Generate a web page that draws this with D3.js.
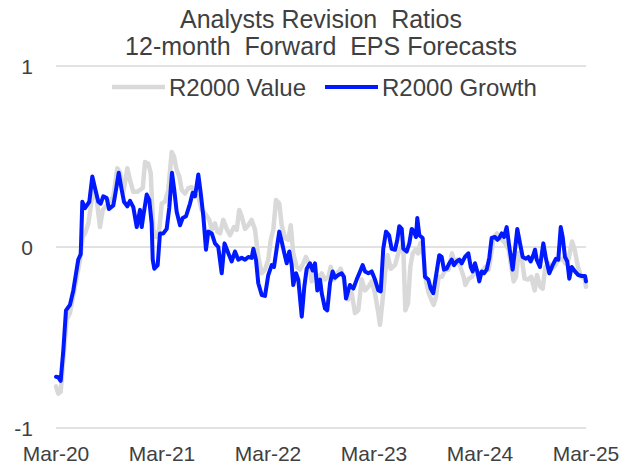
<!DOCTYPE html>
<meta charset="utf-8">
<title>Analysts Revision Ratios</title>
<style>

body {
  margin: 0;
  background-color: white;
}

text {
  font-family: "Liberation Sans", Arial, sans-serif;
  fill: #404040;
}

.grid line {
  stroke: #d9d9d9;
  stroke-width: 1.5px;
}

</style>
<body>
<script src="https://cdn.jsdelivr.net/npm/d3@7"></script>
<script>

var width = 635,
    height = 467;

var titleLines = ["Analysts Revision  Ratios", "12-month  Forward  EPS Forecasts"];
var seriesNames = ["R2000 Value", "R2000 Growth"];
var xTickMonths = [0, 12, 24, 36, 48, 60];
var xTickLabels = ["Mar-20", "Mar-21", "Mar-22", "Mar-23", "Mar-24", "Mar-25"];
var yTicks = [1, 0, -1];

// months since Mar-20
var valueMonths = [0, 0.26, 0.53, 0.83, 1.21, 1.58, 2.15, 2.72, 3.02, 3.28, 3.66, 3.93, 4.22, 4.61, 4.98,
  5.29, 5.74, 6.11, 6.49, 6.94, 7.25, 7.62, 8.07, 8.38, 8.75, 9.2, 9.51, 9.82, 10.08, 10.45, 10.72,
  11.02, 11.32, 11.69, 11.97, 12.34, 12.71, 13.1, 13.36, 13.66, 13.96, 14.23, 14.6, 14.98, 15.36,
  15.74, 16.11, 16.49, 16.87, 17.35, 17.63, 18, 18.26, 18.57, 18.94, 19.32, 19.7, 20.15, 20.46,
  20.75, 21.02, 21.4, 21.77, 22.15, 22.53, 22.9, 23.29, 23.66, 24.03, 24.31, 24.6, 24.91, 25.28,
  25.55, 25.92, 26.3, 26.57, 26.86, 27.25, 27.62, 28, 28.3, 28.68, 28.95, 29.32, 29.7, 30.08,
  30.45, 30.83, 31.1, 31.47, 31.85, 32.23, 32.52, 32.83, 33.09, 33.48, 33.85, 34.22, 34.61, 34.98,
  35.36, 35.74, 36.11, 36.49, 36.68, 36.98, 37.25, 37.55, 37.89, 38.38, 38.75, 39.3, 39.55, 39.85,
  40.11, 40.38, 40.68, 40.98, 41.24, 41.62, 41.89, 42.19, 42.48, 42.75, 43.02, 43.32, 43.7, 44.08,
  44.46, 44.83, 45.14, 45.4, 45.78, 46.15, 46.34, 46.72, 47.09, 47.47, 47.85, 48.23, 48.6, 48.98,
  49.28, 49.55, 49.92, 50.3, 50.49, 50.86, 51.24, 51.54, 51.81, 52.07, 52.37, 52.75, 53.05, 53.43,
  53.81, 54.19, 54.45, 54.83, 55.1, 55.4, 55.78, 56.15, 56.53, 56.91, 57.36, 57.66, 58.04, 58.42,
  58.72, 59.09, 59.47, 59.85, 60];
var valueRatios = [-0.77, -0.81, -0.8, -0.62, -0.4, -0.365, -0.22, -0.07, 0.055, 0.075, 0.13, 0.22, 0.33, 0.26, 0.11,
  0.205, 0.23, 0.25, 0.28, 0.435, 0.41, 0.3, 0.435, 0.37, 0.305, 0.305, 0.315, 0.325, 0.47, 0.46, 0.41,
  0.095, 0.055, 0.095, 0.24, 0.25, 0.315, 0.525, 0.5, 0.425, 0.39, 0.315, 0.295, 0.325, 0.33,
  0.285, 0.28, 0.205, 0.185, 0.15, 0.095, 0.13, 0.085, 0.075, 0.15, 0.1, 0.065, 0.11, 0.095,
  0.205, 0.17, 0.1, 0.12, 0.15, 0.095, -0.055, -0.145, -0.125, -0.07, 0.04, 0.095, 0.26, 0.24,
  0.12, 0.05, 0.04, 0.12, -0.035, -0.11, -0.125, -0.09, -0.055, -0.1, -0.19, -0.13, -0.18, -0.145,
  -0.18, -0.165, -0.11, -0.18, -0.145, -0.12, -0.165, -0.24, -0.29, -0.255, -0.365, -0.35, -0.18, -0.24,
  -0.22, -0.19, -0.255, -0.365, -0.43, -0.29, -0.145, -0.045, -0.12, -0.1, -0.035, 0.02, -0.35, -0.31,
  -0.11, -0.035, -0.015, -0.035, 0.02, -0.055, -0.19, -0.255, -0.29, -0.32, -0.275, -0.165, -0.165, -0.125,
  -0.125, -0.035, -0.09, -0.07, -0.11, -0.165, -0.21, -0.175, -0.165, -0.135, -0.155, -0.135, -0.11, -0.125,
  -0.035, 0.055, 0.075, 0.055, 0.04, 0.02, -0.015, -0.11, -0.19, -0.165, -0.035, -0.07, -0.175, -0.18,
  -0.165, -0.24, -0.155, -0.22, -0.23, -0.11, -0.09, -0.12, -0.1, -0.07, -0.065, -0.09, -0.065, 0.03,
  -0.015, -0.11, -0.165, -0.175, -0.22];

var growthMonths = [0, 0.26, 0.53, 0.83, 1.13, 1.58, 1.96, 2.52, 2.8, 2.98, 3.28, 3.77, 4.11, 4.42, 4.79,
  5.06, 5.35, 5.74, 6, 6.49, 6.79, 7.1, 7.44, 7.7, 8.07, 8.38, 8.75, 9.14, 9.51, 9.7, 9.88, 10.27,
  10.56, 10.83, 10.95, 11.13, 11.51, 11.77, 12.15, 12.53, 12.83, 13.13, 13.39, 13.66, 14.04, 14.34,
  14.72, 15.17, 15.48, 15.74, 16.11, 16.38, 16.68, 16.98, 17.24, 17.63, 18, 18.37, 18.76, 19.08,
  19.51, 19.89, 20.26, 20.64, 21.02, 21.4, 21.77, 22.15, 22.34, 22.64, 22.9, 23.29, 23.66, 24.03,
  24.42, 24.68, 24.98, 25.28, 25.55, 25.85, 26.12, 26.41, 26.68, 26.86, 27.17, 27.43, 27.82, 28.11,
  28.38, 28.75, 29.06, 29.32, 29.58, 29.89, 30.08, 30.45, 30.71, 31.02, 31.32, 31.58, 31.96, 32.34,
  32.6, 32.83, 33.09, 33.28, 33.66, 34.04, 34.42, 34.72, 34.98, 35.36, 35.74, 36.11, 36.49, 36.76,
  37.05, 37.36, 37.7, 38, 38.38, 38.64, 38.86, 39.14, 39.32, 39.7, 40, 40.27, 40.53, 40.75, 40.9,
  41.13, 41.51, 41.77, 42.15, 42.42, 42.71, 43.1, 43.39, 43.66, 43.92, 44.23, 44.52, 44.8, 45.06,
  45.36, 45.66, 45.93, 46.3, 46.68, 46.95, 47.17, 47.43, 47.69, 47.92, 48.19, 48.45, 48.76, 49.05,
  49.32, 49.7, 49.96, 50.18, 50.46, 50.72, 51.02, 51.32, 51.7, 51.96, 52.22, 52.53, 52.83, 53.21,
  53.47, 53.74, 54.04, 54.23, 54.42, 54.79, 55.17, 55.47, 55.85, 56.23, 56.6, 56.86, 57.14, 57.36,
  57.62, 57.88, 58.11, 58.38, 58.75, 59.13, 59.51, 59.89, 60];
var growthRatios = [-0.717, -0.72, -0.74, -0.57, -0.35, -0.32, -0.24, -0.07, -0.04, 0.25, 0.215, 0.25, 0.39, 0.325, 0.25,
  0.24, 0.28, 0.27, 0.21, 0.23, 0.315, 0.41, 0.315, 0.25, 0.225, 0.255, 0.22, 0.11, 0.205, 0.11, 0.17, 0.29,
  0.26, 0.13, -0.07, -0.12, -0.1, 0.075, 0.075, 0.1, 0.22, 0.41, 0.315, 0.195, 0.12, 0.16,
  0.17, 0.24, 0.3, 0.28, 0.4, 0.3, 0.17, -0.015, 0.085, 0.075, 0.02, 0, -0.145, 0.02,
  -0.035, -0.08, -0.025, -0.07, -0.06, -0.07, -0.055, -0.06, -0.01, -0.07, -0.2, -0.265, -0.27, -0.155,
  -0.1, -0.11, -0.01, 0.085, 0.03, -0.035, -0.09, -0.025, -0.1, -0.21, -0.145, -0.18, -0.385, -0.22,
  -0.12, -0.09, -0.13, -0.09, -0.24, -0.18, -0.255, -0.34, -0.35, -0.2, -0.135, -0.17, -0.155, -0.145,
  -0.165, -0.285, -0.24, -0.21, -0.23, -0.18, -0.135, -0.1, -0.135, -0.145, -0.135, -0.18, -0.24, -0.245,
  -0.01, 0.085, 0.065, -0.01, -0.015, 0.04, 0.115, 0.1, -0.01, -0.025, 0.02, 0.1, 0.085, 0.055, 0.16,
  0.065, 0.05, -0.165, -0.18, -0.23, -0.255, -0.135, -0.045, -0.055, -0.125, -0.12, -0.09, -0.07, -0.1,
  -0.08, -0.07, -0.09, -0.055, -0.035, -0.11, -0.135, -0.09, -0.135, -0.19, -0.135, -0.145, -0.125, -0.06,
  0.05, 0.055, 0.04, 0.05, 0.075, 0.055, 0.11, 0, -0.125, -0.015, 0.1, 0.02, -0.055, -0.065,
  -0.055, -0.08, -0.045, -0.015, -0.07, -0.11, 0.02, -0.065, -0.145, -0.1, -0.065, -0.07, 0.11, 0.055,
  -0.055, -0.08, -0.175, -0.11, -0.135, -0.155, -0.16, -0.16, -0.19];

var seriesColors = ["#d9d9d9", "#0019ff"],
    seriesWidths = [4.5, 4];

var x = d3.scaleLinear().domain([0, 60]).range([56, 586]);
var y = d3.scaleLinear().domain([-1, 1]).range([428, 66]);

var svg = d3.select("body").append("svg")
    .attr("width", width)
    .attr("height", height);

svg.append("g")
    .attr("class", "grid")
  .selectAll("line")
    .data(yTicks)
  .enter().append("line")
    .attr("x1", x(0))
    .attr("x2", x(60))
    .attr("y1", function(d) { return y(d); })
    .attr("y2", function(d) { return y(d); });

svg.append("g").selectAll("text")
    .data(yTicks)
  .enter().append("text")
    .attr("x", 33)
    .attr("y", function(d) { return y(d); })
    .attr("dy", "0.36em")
    .attr("text-anchor", "end")
    .style("font-size", "21px")
    .text(function(d) { return d < 0 ? "-" + Math.abs(d) : d; });

svg.append("g").selectAll("text")
    .data(xTickMonths)
  .enter().append("text")
    .attr("x", function(d) { return x(d); })
    .attr("y", 461)
    .attr("text-anchor", "middle")
    .style("font-size", "21px")
    .text(function(d, i) { return xTickLabels[i]; });

var line = d3.line()
    .x(function(d) { return x(d[0]); })
    .y(function(d) { return y(d[1]); });

var series = [d3.zip(valueMonths, valueRatios), d3.zip(growthMonths, growthRatios)];

svg.append("g").selectAll("path")
    .data(series)
  .enter().append("path")
    .attr("d", line)
    .style("fill", "none")
    .style("stroke", function(d, i) { return seriesColors[i]; })
    .style("stroke-width", function(d, i) { return seriesWidths[i]; })
    .style("stroke-linejoin", "round")
    .style("stroke-linecap", "round");

svg.append("g").selectAll("text")
    .data(titleLines)
  .enter().append("text")
    .attr("x", 321)
    .attr("y", function(d, i) { return 28 + i * 27; })
    .attr("text-anchor", "middle")
    .style("font-size", "25px")
    .style("white-space", "pre")
    .text(function(d) { return d; });

var legendX = [112, 325];

var legend = svg.append("g").selectAll("g")
    .data(seriesNames)
  .enter().append("g")
    .attr("transform", function(d, i) { return "translate(" + legendX[i] + ",87)"; });

legend.append("line")
    .attr("x1", 0)
    .attr("x2", 53)
    .style("stroke", function(d, i) { return seriesColors[i]; })
    .style("stroke-width", function(d, i) { return seriesWidths[i]; });

legend.append("text")
    .attr("x", 57)
    .attr("dy", "0.36em")
    .style("font-size", "24px")
    .text(function(d) { return d; });

</script>
